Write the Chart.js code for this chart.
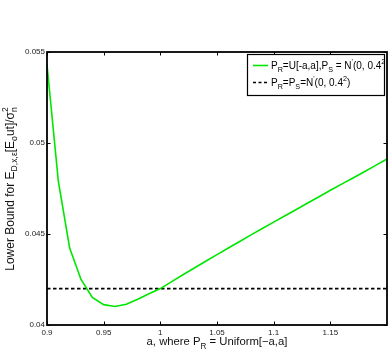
<!DOCTYPE html>
<html><head><meta charset="utf-8">
<script src="https://cdn.jsdelivr.net/npm/chart.js@4/dist/chart.umd.min.js"></script>
<style>html,body{margin:0;padding:0;background:#fff}canvas{display:block}</style>
</head><body>
<canvas id="c" width="392" height="358"></canvas>
<script>
// ---- data ----
const aValues = [0.90,0.91,0.92,0.93,0.94,0.95,0.96,0.97,0.98,0.99,1.00,1.01,1.02,1.03,1.04,1.05,1.06,1.07,1.08,1.09,1.10,1.11,1.12,1.13,1.14,1.15,1.16,1.17,1.18,1.19,1.20];
const uniformBound = [0.05430,0.04790,0.04423,0.04250,0.04152,0.04112,0.04102,0.04114,0.04142,0.04172,0.04200,0.04238,0.04276,0.04313,0.04350,0.04387,0.04423,0.04459,0.04495,0.04530,0.04565,0.04600,0.04635,0.04670,0.04705,0.04740,0.04774,0.04808,0.04842,0.04877,0.04912];
const gaussX = [0.9, 1.2];
const gaussBound = [0.0420, 0.0420];
const xTicks = [0.9, 0.95, 1, 1.05, 1.1, 1.15];
const xTickLabels = ["0.9","0.95","1","1.05","1.1","1.15"];
const yTicks = [0.04, 0.045, 0.05, 0.055];
const yTickLabels = ["0.04","0.045","0.05","0.055"];

const FONT = "Liberation Sans, Arial, Helvetica, sans-serif";

function segWidth(ctx, s, size){
  const ss = size*0.72;
  if (s.k === 'n'){ ctx.font = size+"px "+FONT; return ctx.measureText(s.t).width; }
  if (s.k === 'ss'){ ctx.font = ss+"px "+FONT; return Math.max(ctx.measureText(s.t).width, ctx.measureText(s.b).width); }
  ctx.font = ss+"px "+FONT; return ctx.measureText(s.t).width;
}
function drawRich(ctx, segs, x, y, size, align){
  let w = 0; segs.forEach(s => w += segWidth(ctx, s, size));
  let cx = align === 'center' ? x - w/2 : x;
  ctx.textBaseline = 'alphabetic'; ctx.textAlign = 'left';
  const ss = size*0.72;
  segs.forEach(s => {
    const sw = segWidth(ctx, s, size);
    if (s.k === 'n'){ ctx.font = size+"px "+FONT; ctx.fillText(s.t, cx, y); }
    else if (s.k === 'sub'){ ctx.font = ss+"px "+FONT; ctx.fillText(s.t, cx, y + size*0.32); }
    else if (s.k === 'sup'){ ctx.font = ss+"px "+FONT; ctx.fillText(s.t, cx, y - size*0.42); }
    else if (s.k === 'ss'){ ctx.font = ss+"px "+FONT; ctx.fillText(s.t, cx, y - size*0.45); ctx.fillText(s.b, cx, y + size*0.32); }
    cx += sw;
  });
}

const legendItems = [
  {segs:[{k:'n',t:'P'},{k:'sub',t:'R'},{k:'n',t:'=U[-a,a],P'},{k:'sub',t:'S'},{k:'n',t:' = N'},{k:'sup',t:'\''},{k:'n',t:'(0, 0.4'},{k:'sup',t:'2'},{k:'n',t:')'}], color:'#00e600', dash:[]},
  {segs:[{k:'n',t:'P'},{k:'sub',t:'R'},{k:'n',t:'=P'},{k:'sub',t:'S'},{k:'n',t:'=N'},{k:'sup',t:'\''},{k:'n',t:'(0, 0.4'},{k:'sup',t:'2'},{k:'n',t:')'}], color:'#000', dash:[3,2.5]}
];

const decor = {
  id:'decor',
  afterDraw(chart){
    const ctx = chart.ctx, a = chart.chartArea;
    const xs = chart.scales.x, ys = chart.scales.y;
    ctx.save();
    // inward ticks
    ctx.strokeStyle = '#000'; ctx.lineWidth = 1;
    xTicks.forEach(v => {
      const px = Math.round(xs.getPixelForValue(v)) + 0.5;
      ctx.beginPath(); ctx.moveTo(px, a.bottom); ctx.lineTo(px, a.bottom-3.5);
      ctx.moveTo(px, a.top); ctx.lineTo(px, a.top+3.5); ctx.stroke();
    });
    yTicks.forEach(v => {
      const py = Math.round(ys.getPixelForValue(v)) + 0.5;
      ctx.beginPath(); ctx.moveTo(a.left, py); ctx.lineTo(a.left+3.5, py);
      ctx.moveTo(a.right, py); ctx.lineTo(a.right-3.5, py); ctx.stroke();
    });
    // frame
    ctx.lineWidth = 1.8;
    ctx.strokeRect(a.left, a.top, a.right-a.left, a.bottom-a.top);
    // legend
    const lx = 247, ly = 54, lw = 137, lh = 41;
    ctx.fillStyle = '#fff'; ctx.fillRect(lx, ly, lw, lh);
    legendItems.forEach((it, i) => {
      const yy = ly + 11 + i*17;
      ctx.save();
      ctx.strokeStyle = it.color; ctx.lineWidth = 1.6; ctx.setLineDash(it.dash);
      ctx.beginPath(); ctx.moveTo(lx+6, yy+0.5); ctx.lineTo(lx+21, yy+0.5); ctx.stroke();
      ctx.restore();
      ctx.save();
      ctx.beginPath(); ctx.rect(lx, ly, lw, lh); ctx.clip();
      ctx.fillStyle = '#000';
      drawRich(ctx, it.segs, lx+24, yy+3.5, 10, 'left');
      ctx.restore();
    });
    ctx.lineWidth = 1.2; ctx.strokeStyle = '#000';
    ctx.strokeRect(lx+0.5, ly+0.5, lw, lh);
    // x title
    ctx.fillStyle = '#111';
    drawRich(ctx, [{k:'n',t:'a, where P'},{k:'sub',t:'R'},{k:'n',t:' = Uniform[\u2212a,a]'}], (a.left+a.right)/2, 345, 11.3, 'center');
    // y title
    ctx.save();
    ctx.translate(13.5, 189);
    ctx.rotate(-Math.PI/2);
    drawRich(ctx, [{k:'n',t:'Lower Bound for E'},{k:'sub',t:'D,x,\u03b5'},{k:'n',t:'[E'},{k:'sub',t:'o'},{k:'n',t:'ut]/\u03c3'},{k:'ss',t:'2',b:'n'}], 0, 0, 12, 'center');
    ctx.restore();
    ctx.restore();
  }
};

new Chart(document.getElementById('c'), {
  type:'line',
  data:{
    datasets:[
      {data: aValues.map((x,i)=>({x, y: uniformBound[i]})), borderColor:'#00e600', borderWidth:1.6, pointRadius:0, tension:0, fill:false},
      {data: gaussX.map((x,i)=>({x, y: gaussBound[i]})), borderColor:'#000', borderWidth:1.6, borderDash:[3.5,2.5], pointRadius:0, tension:0, fill:false}
    ]
  },
  options:{
    responsive:false, devicePixelRatio:1, animation:false,
    layout:{padding:{left:0, top:52, right:5, bottom:0}},
    plugins:{legend:{display:false}, tooltip:{enabled:false}},
    scales:{
      x:{type:'linear', min:0.9, max:1.2,
        grid:{display:false, drawTicks:false}, border:{display:false},
        afterBuildTicks: s => { s.ticks = xTicks.map(v=>({value:v})); },
        afterFit: s => { s.height = 33; },
        ticks:{font:{family:FONT, size:8}, color:'#222', padding:3, maxRotation:0, autoSkip:false,
          callback:(v)=>{ const i = xTicks.findIndex(t=>Math.abs(t-v)<1e-9); return i>=0 ? xTickLabels[i] : ''; }}
      },
      y:{type:'linear', min:0.04, max:0.055,
        grid:{display:false, drawTicks:false}, border:{display:false},
        afterBuildTicks: s => { s.ticks = yTicks.map(v=>({value:v})); },
        afterFit: s => { s.width = 47; },
        ticks:{font:{family:FONT, size:8}, color:'#222', padding:2, autoSkip:false,
          callback:(v)=>{ const i = yTicks.findIndex(t=>Math.abs(t-v)<1e-9); return i>=0 ? yTickLabels[i] : ''; }}
      }
    }
  },
  plugins:[decor]
});
</script>
</body></html>
